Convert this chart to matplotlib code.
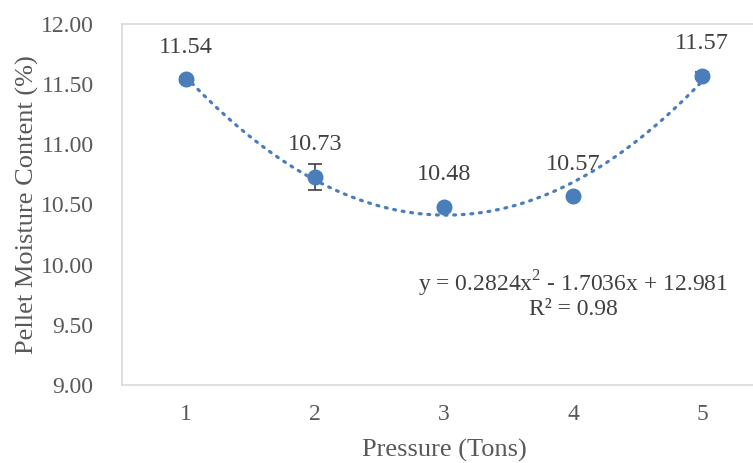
import numpy as np
import matplotlib
matplotlib.use('Agg')
import matplotlib.pyplot as plt

# Datos
pressure = [1, 2, 3, 4, 5]
moisture = [11.54, 10.73, 10.48, 10.57, 11.57]
moisture_err = [0.02, 0.11, 0.01, 0.01, 0.03]
label_txt = ['11.54', '10.73', '10.48', '10.57', '11.57']

# Línea de tendencia polinómica (coeficientes de la ecuación mostrada)
trend_coef = [0.2824, -1.7036, 12.981]
eq_text = 'y = 0.2824x$^2$ - 1.7036x + 12.981\nR² = 0.98'

y_ticks = [9.0, 9.5, 10.0, 10.5, 11.0, 11.5, 12.0]

plt.rcParams['font.family'] = ['Liberation Serif', 'DejaVu Serif']
plt.rcParams['mathtext.fontset'] = 'custom'
plt.rcParams['mathtext.rm'] = 'Liberation Serif'

BLUE = '#4a7ebb'
GRAY_TXT = '#595959'
DARK_TXT = '#404040'

fig = plt.figure(figsize=(7.53, 4.63), dpi=100)
W, H = 753, 463
# ejes: x=0.5..5.5 -> 121.5..766.5 px (se corta a la derecha), y 9..12 -> 385..24 px
ax = fig.add_axes([121.5 / W, (H - 385) / H, (766.5 - 121.5) / W, (385 - 24) / H])

xs = np.linspace(1, 5, 200)
ax.plot(xs, np.polyval(trend_coef, xs), color=BLUE, lw=2.3, ls=(0, (0.6, 2.1)),
        dash_capstyle='round', zorder=2)

ax.errorbar(pressure, moisture, yerr=moisture_err, fmt='o', color=BLUE, ms=10.5,
            ecolor=DARK_TXT, elinewidth=1.2, capsize=5, capthick=1.2, zorder=3)

for x, y, t in zip(pressure, moisture, label_txt):
    ax.annotate(t, (x, y), xytext=(0, 23), textcoords='offset points',
                ha='center', va='center', fontsize=17.5, color=DARK_TXT)

ax.text(4.0, 9.75, eq_text, ha='center', va='center', fontsize=17,
        color=DARK_TXT, linespacing=1.0)

ax.set_xlim(0.5, 5.5)
ax.set_ylim(9, 12)
ax.set_xticks(pressure)
ax.set_yticks(y_ticks)
ax.set_yticklabels([f'{v:.2f}' for v in y_ticks])
ax.tick_params(length=0, labelsize=17, labelcolor=GRAY_TXT)
ax.tick_params(axis='y', pad=20)
ax.tick_params(axis='x', pad=14)

for s in ax.spines.values():
    s.set_color('#d9d9d9')
    s.set_linewidth(1.2)

ax.set_xlabel('Pressure (Tons)', fontsize=19, color=GRAY_TXT, labelpad=10)
ax.set_ylabel('Pellet Moisture Content (%)', fontsize=19, color=GRAY_TXT, labelpad=1)

fig.savefig('out.png', dpi=100)
